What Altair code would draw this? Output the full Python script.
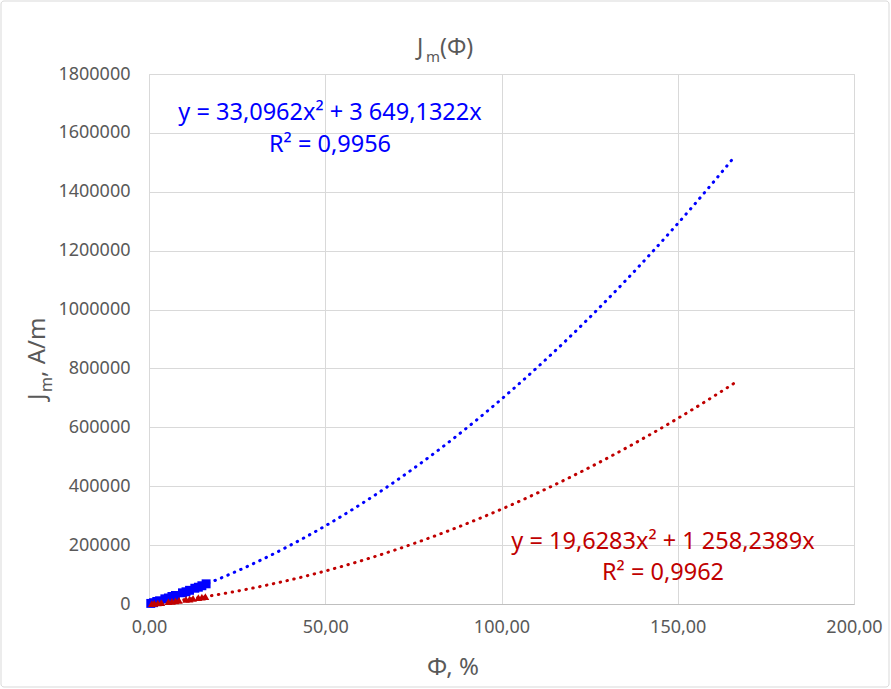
import altair as alt
import pandas as pd

# Measured points: blue squares and red triangles
blue_x = [0.5, 1.3, 2.2, 3.0, 4.5, 5.5, 6.5, 7.5, 9.5, 10.5, 11.5, 13.0, 14.0, 15.0, 16.2]
blue_y = [2000, 4500, 8500, 11000, 17500, 20500, 25500, 29000, 38000, 41500, 46500, 53500, 57000, 62000, 68500]
red_x = [0.8, 1.5, 2.5, 3.5, 5.5, 6.5, 7.5, 8.5, 10.5, 11.5, 12.5, 14.0, 15.0, 16.0]
red_y = [1100, 1800, 3400, 4500, 7700, 8800, 10700, 12000, 15500, 16900, 19000, 21300, 23500, 25000]

# Polynomial trendlines (order 2, zero intercept) as stated on the chart
blue_a, blue_b = 33.0962, 3649.1322
red_a, red_b = 19.6283, 1258.2389
trend_end = 166

blue_eq = "y = 33,0962x² + 3 649,1322x"
blue_r2 = "R² = 0,9956"
red_eq = "y = 19,6283x² + 1 258,2389x"
red_r2 = "R² = 0,9962"

x_ticks = [0, 50, 100, 150, 200]
y_ticks = list(range(0, 1800001, 200000))

W, H = 705, 530
FONT = "Noto Sans"
GREY = "#595959"
GRID = "#d9d9d9"
BLUE = "#0000ff"
RED = "#c00000"

x_enc = alt.X(
    "phi:Q",
    scale=alt.Scale(domain=[0, 200], nice=False, zero=True),
    axis=alt.Axis(
        values=x_ticks,
        labelExpr="replace(format(datum.value, '.2f'), '.', ',')",
        title=None, grid=True, gridColor=GRID, gridWidth=1,
        domain=True, domainColor="#bfbfbf", ticks=False, labelFlush=False,
        labelPadding=14, labelFontSize=18, labelColor=GREY, labelFont=FONT,
    ),
)
y_enc = alt.Y(
    "J:Q",
    scale=alt.Scale(domain=[0, 1800000], nice=False),
    axis=alt.Axis(
        values=y_ticks, format="d", title=None, grid=True, gridColor=GRID,
        gridWidth=1, domain=False, ticks=False, labelPadding=19, labelFlush=False,
        labelFontSize=18, labelColor=GREY, labelFont=FONT,
    ),
)

blue_df = pd.DataFrame({"phi": blue_x, "J": blue_y})
red_df = pd.DataFrame({"phi": red_x, "J": red_y})


def trend(a, b, color):
    return (
        alt.Chart(alt.sequence(0, trend_end + 0.5, 1, as_="phi"))
        .transform_calculate(J=f"{a}*datum.phi*datum.phi + {b}*datum.phi")
        .mark_line(strokeDash=[0.5, 6.5], strokeCap="round", strokeWidth=3, color=color)
        .encode(x=x_enc, y=y_enc)
    )


blue_pts = alt.Chart(blue_df).mark_square(size=80, color=BLUE, opacity=1).encode(x=x_enc, y=y_enc)
red_pts = alt.Chart(red_df).mark_point(
    shape="triangle-up", size=60, filled=True, color=RED, opacity=1
).encode(x=x_enc, y=y_enc)


def label(text, x, y, size, color, angle=0, align="center", baseline="middle"):
    return (
        alt.Chart(pd.DataFrame({"t": [text]}))
        .mark_text(fontSize=size, color=color, font=FONT, align=align,
                   baseline=baseline, angle=angle)
        .encode(text="t:N", x=alt.value(x), y=alt.value(y))
    )


frame = (
    alt.Chart(pd.DataFrame({"a": [0]}))
    .mark_rect(fillOpacity=0, stroke=GRID, strokeWidth=1, cornerRadius=3)
    .encode(x=alt.value(-148), x2=alt.value(740), y=alt.value(-73), y2=alt.value(613))
)

# Chart title "J_m(Φ)" with a subscript m
title_parts = [
    label("J", 268, -19, 23, GREY, align="left", baseline="alphabetic"),
    label("m", 277, -12, 15, GREY, align="left", baseline="alphabetic"),
    label("(Φ)", 291, -19, 23, GREY, align="left", baseline="alphabetic"),
]

# Rotated y-axis title "J_m, A/m"
ytitle_parts = [
    label("J", -104, 326, 24, GREY, angle=270, align="left", baseline="alphabetic"),
    label("m", -97, 318, 16, GREY, angle=270, align="left", baseline="alphabetic"),
    label(", A/m", -104, 303, 24, GREY, angle=270, align="left", baseline="alphabetic"),
]

chart = alt.layer(
    frame,
    trend(blue_a, blue_b, BLUE),
    trend(red_a, red_b, RED),
    blue_pts,
    red_pts,
    label(blue_eq, 181, 39, 23.5, BLUE),
    label(blue_r2, 181, 71, 23.5, BLUE),
    label(red_eq, 514, 468, 23.5, RED),
    label(red_r2, 514, 499, 23.5, RED),
    *title_parts,
    label("Φ, %", 304, 594, 24, GREY),
    *ytitle_parts,
).properties(
    width=W, height=H,
    padding={"left": 149, "top": 74, "right": 37, "bottom": 85},
    autosize=alt.AutoSizeParams(type="none"),
).configure_view(stroke=None).configure(background="white")

chart.save("out.html", embed_options={"renderer": "svg", "actions": False})
